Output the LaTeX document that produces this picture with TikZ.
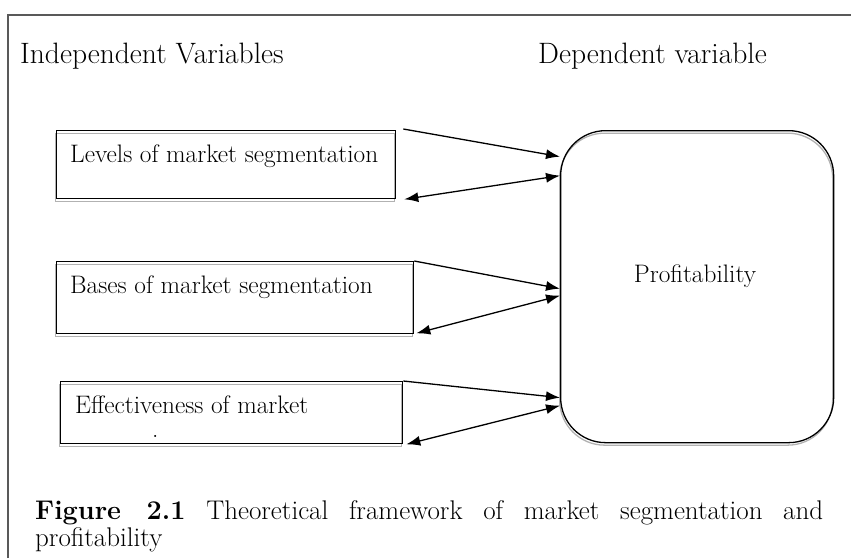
\documentclass[tikz,border=0pt]{standalone}
\usepackage{fontspec}
\usetikzlibrary{arrows.meta}
\tikzset{
  varbox/.style={draw,rectangle,line width=1.3pt,anchor=north west,inner sep=0pt,
    preaction={draw=black!30,line width=1.3pt,transform canvas={xshift=-1pt,yshift=-2.5pt}}},
  lbl/.style={anchor=base west,inner sep=0pt,font=\fontsize{25.3}{30}\selectfont},
  head/.style={lbl,font=\fontsize{29.5}{34}\selectfont},
  capt/.style={lbl,font=\fontsize{27}{32}\selectfont},
  arr/.style={line width=1.3pt,-{Latex[length=14pt,width=10pt]}},
  darr/.style={line width=1.3pt,{Latex[length=14pt,width=10pt]}-{Latex[length=14pt,width=10pt]}}
}
\begin{document}
\begin{tikzpicture}[x=1pt,y=-1pt]
        \useasboundingbox(0,0)rectangle(851,558);
        \draw[black!65,line width=1.5pt](8,558)--(8,15)--(851,15);
        \node[head](iv)at(20,63){Independent Variables};
        \node[head](dv)at(538,63){Dependent variable};
        \node[varbox,minimum width=339pt,minimum height=68pt](a)at(56,130){};
        \node[varbox,minimum width=357pt,minimum height=72pt](b)at(56,261){};
        \node[varbox,minimum width=342pt,minimum height=62pt](c)at(60,381){};
        \node[lbl](ta)at(70,162){Levels of market segmentation};
        \node[lbl](tb)at(70,293){Bases of market segmentation};
        \node[lbl](tc)at(75,413){Effectiveness of market};
        \node[lbl](td)at(152,437){.};
        \node[varbox,rounded corners=45pt,minimum width=273pt,minimum height=312pt](p)at(560,130){};
        \node[lbl,anchor=base](tp)at(695,282){Profitability};
        \draw[arr]([xshift=7pt,yshift=1pt]a.north east)--([yshift=130pt]p.west);
        \draw[darr]([xshift=8pt]a.south east)--([yshift=111pt]p.west);
        \draw[arr](b.north east)--([yshift=-2pt]p.west);
        \draw[darr]([xshift=2pt,yshift=1pt]b.south east)--([yshift=-9pt]p.west);
        \draw[arr](c.north east)--([yshift=-111pt]p.west);
        \draw[darr]([xshift=3pt]c.south east)--([yshift=-119pt]p.west);
        \node[capt](fa)at(35,519){\makebox[788pt][s]{\textbf{Figure 2.1} Theoretical framework of market segmentation and}};
        \node[capt](fb)at(35,546){profitability};
        \end{tikzpicture}
\end{document}
